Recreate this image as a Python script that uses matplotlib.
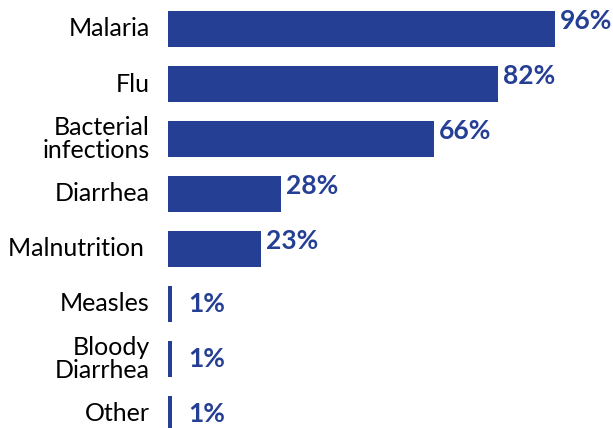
import matplotlib
matplotlib.use("Agg")
import matplotlib.pyplot as plt

categories = ["Malaria", "Flu", "Bacterial\ninfections", "Diarrhea", "Malnutrition ",
              "Measles", "Bloody\nDiarrhea", "Other"]
values = [96, 82, 66, 28, 23, 1, 1, 1]
value_labels = ["96%", "82%", "66%", "28%", "23%", "1%", "1%", "1%"]

color = "#253F95"
plt.rcParams['font.family'] = ['Lato', 'DejaVu Sans']

fig = plt.figure(figsize=(6.13, 4.28), dpi=100)
W, H = 613, 428
ax = fig.add_axes([168 / W, 0, 1 - 168 / W, 1])
px_per_unit = 4.03
ax.set_xlim(0, (W - 168) / px_per_unit)
spacing = 55
ax.set_ylim((H - 29) / spacing, -29 / spacing)

ypos = list(range(len(categories)))
ax.barh(ypos, values, height=36 / spacing, color=color)

for y, v, lab in zip(ypos, values, value_labels):
    if v > 5:
        ax.annotate(lab, (v, y), xytext=(5, 8), textcoords="offset pixels",
                    ha="left", va="center", fontsize=19, fontweight="bold", color=color,
                    annotation_clip=False)
    else:
        ax.annotate(lab, (v, y), xytext=(16, 0), textcoords="offset pixels",
                    ha="left", va="center", fontsize=19, fontweight="bold", color=color,
                    annotation_clip=False)

for y, c in zip(ypos, categories):
    ax.annotate(c, (0, y), xytext=(-18, 0), textcoords="offset pixels",
                ha="right", va="center", fontsize=18, color="black", linespacing=0.95,
                annotation_clip=False)

ax.axis("off")
fig.savefig("out.png", dpi=100)
